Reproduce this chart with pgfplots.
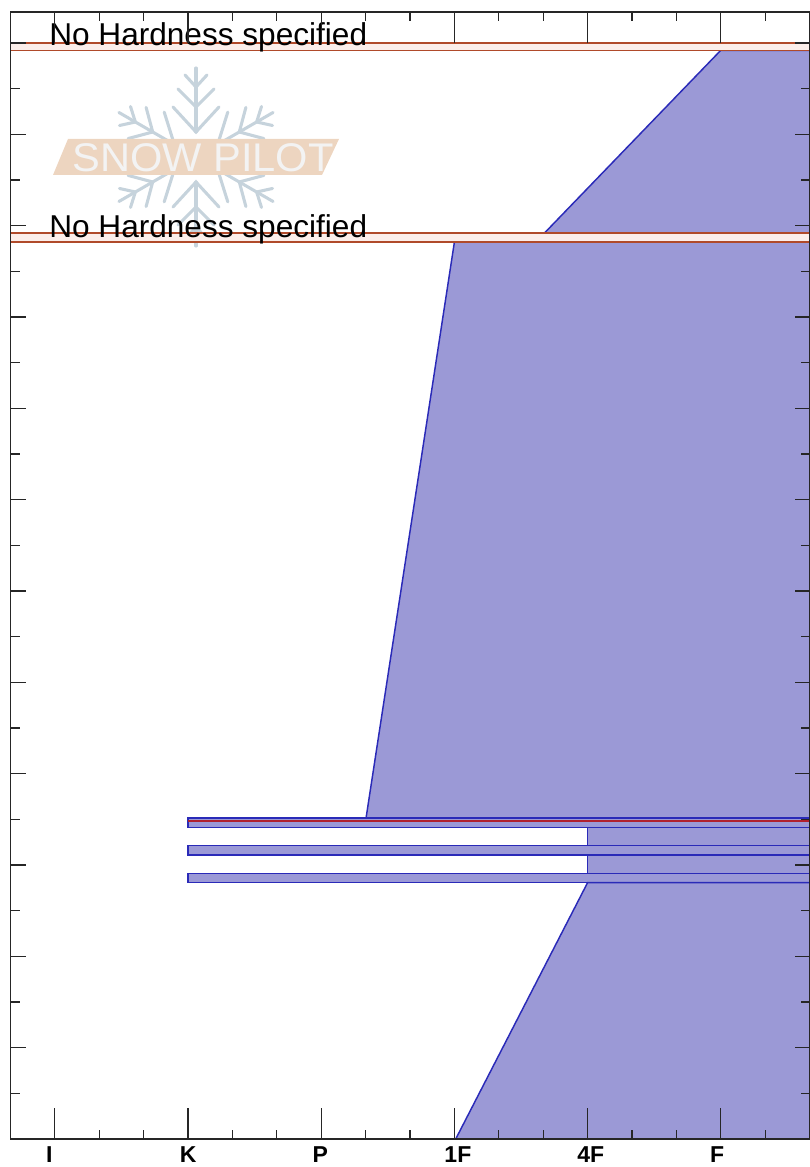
\documentclass[border=0pt]{standalone}
\usepackage{fontspec}
\setmainfont{Liberation Sans}[Ligatures=NoCommon]
\usepackage{pgfplots}
\pgfplotsset{compat=1.18}
\definecolor{layerfill}{HTML}{9B99D6}
\definecolor{layeredge}{HTML}{2A2AB8}
\definecolor{bandedge}{HTML}{B04A2A}
\definecolor{bandfill}{HTML}{FBEEEA}
\definecolor{ruleline}{HTML}{B0202E}
\definecolor{flake}{HTML}{C6D3DC}
\definecolor{logoband}{HTML}{EDD5C0}
\definecolor{logotext}{HTML}{F3F3F3}
\begin{document}
\begin{tikzpicture}
\useasboundingbox (0,0) rectangle (607.5pt,875.25pt);

% watermark, in image pixels
\begin{scope}[x=0.75pt,y=-0.75pt,yshift=875.25pt]
  \begin{scope}[shift={(196,157)},line width=2.3pt,color=flake,line cap=round]
    \foreach \a in {0,60,...,300}{
      \begin{scope}[rotate=\a]
        \draw (0,-25) -- (0,-89);
        \draw (-11,-82) -- (0,-70) -- (11,-82);
        \draw (-18,-68) -- (0,-50) -- (18,-68);
        \draw (-23,-50) -- (0,-25) -- (23,-50);
      \end{scope}
    }
  \end{scope}
  \fill[logoband] (68,139) -- (339,139) -- (322,175) -- (53,175) -- cycle;
  \node[text=logotext,transform shape,xscale=1.04,inner sep=0pt] at (203,158)
    {\fontsize{30pt}{30pt}\selectfont SNOW PILOT};
\end{scope}

\begin{axis}[
    at={(7.875pt,21pt)}, anchor=south west,
    scale only axis,
    width=599.25pt, height=845.25pt,
    xmin=0, xmax=18,
    ymin=0, ymax=123.4,
    axis on top,
    tick align=inside,
    axis line style={line width=1.1pt,color=black!85},
    major tick length=11.25pt,
    minor tick length=6.75pt,
    every tick/.style={line width=0.9pt,color=black!85},
    xtick={1,4,7,10,13,16},
    xticklabels={},
    minor xtick={0,2,3,5,6,8,9,11,12,14,15,17,18},
    extra x ticks={1,4,7,10,13,16},
    extra x tick labels={\hspace*{-8.4pt}I,K,\hspace*{-1.5pt}P,\hspace*{5.25pt}1F,\hspace*{4.8pt}4F,\hspace*{-5.4pt}F},
    extra x tick style={major tick length=23.25pt,xticklabel pos=lower},
    xticklabel style={font=\fontsize{17.25pt}{17.25pt}\selectfont\bfseries,inner sep=0pt,yshift=-5.25pt},
    ytick={0,10,...,120},
    yticklabels={},
    minor ytick={5,15,...,115},
]
    % hardness profile, top layer down
    \addplot[draw=layeredge,line width=1.1pt,fill=layerfill] coordinates {(16.0,119.2) (12.03,99.2) (18.5,99.2) (18.5,119.2)} -- cycle;
    \addplot[draw=layeredge,line width=1.1pt,fill=layerfill] coordinates {(10.0,98.2) (8.01,35.15) (18.5,35.15) (18.5,98.2)} -- cycle;
    \addplot[draw=layeredge,line width=1.1pt,fill=layerfill] coordinates {(4,35.15) (4,34.09) (18.5,34.09) (18.5,35.15)} -- cycle;
    \addplot[draw=layeredge,line width=1.1pt,fill=layerfill] coordinates {(13,34.09) (13,32.11) (18.5,32.11) (18.5,34.09)} -- cycle;
    \addplot[draw=layeredge,line width=1.1pt,fill=layerfill] coordinates {(4,32.11) (4,31.1) (18.5,31.1) (18.5,32.11)} -- cycle;
    \addplot[draw=layeredge,line width=1.1pt,fill=layerfill] coordinates {(13,31.1) (13,29.09) (18.5,29.09) (18.5,31.1)} -- cycle;
    \addplot[draw=layeredge,line width=1.1pt,fill=layerfill] coordinates {(4,29.09) (4,28.06) (18.5,28.06) (18.5,29.09)} -- cycle;
    \addplot[draw=layeredge,line width=1.1pt,fill=layerfill] coordinates {(13,28.06) (10.03,0) (18.5,0) (18.5,28.06)} -- cycle;

    % layers with no hardness
    \addplot[draw=bandedge,line width=1.1pt,fill=bandfill] coordinates {(-0.5,120) (-0.5,119.2) (18.5,119.2) (18.5,120)} -- cycle;
    \addplot[draw=bandedge,line width=1.1pt,fill=bandfill] coordinates {(-0.5,99.2) (-0.5,98.2) (18.5,98.2) (18.5,99.2)} -- cycle;

    % critical layer line
    \addplot[ruleline,line width=1.2pt] coordinates {(4,34.82) (18,34.82)};

    \node[anchor=base west,inner sep=0pt,font=\fontsize{23.7pt}{23.7pt}\selectfont] at (axis cs:0.868,119.7) {No Hardness specified};
    \node[anchor=base west,inner sep=0pt,font=\fontsize{23.7pt}{23.7pt}\selectfont] at (axis cs:0.868,98.66) {No Hardness specified};
\end{axis}
\end{tikzpicture}
\end{document}
